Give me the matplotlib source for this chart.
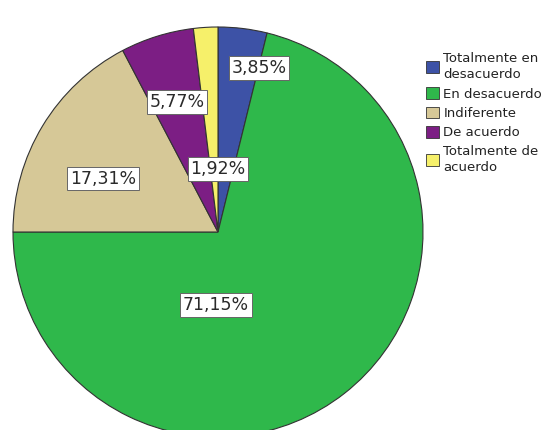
import matplotlib
matplotlib.use("Agg")
import matplotlib.pyplot as plt

categories = ["Totalmente en\ndesacuerdo", "En desacuerdo", "Indiferente",
              "De acuerdo", "Totalmente de\nacuerdo"]
percentages = [3.85, 71.15, 17.31, 5.77, 1.92]
colors = ["#3d52a6", "#2fb84b", "#d6c897", "#7c1e84", "#f6f06a"]

# label positions (pie radius = 1)
label_pos = [(0.20, 0.80), (-0.01, -0.356), (-0.56, 0.26), (-0.20, 0.634), (0.0, 0.307)]

fig = plt.figure(figsize=(5.58, 4.30), dpi=100)
ax = fig.add_axes([0, 0, 1, 1])
wedges, texts, autotexts = ax.pie(
    percentages,
    colors=colors,
    startangle=90,
    counterclock=False,
    autopct=lambda p: f"{p:.2f}%".replace(".", ","),
    wedgeprops=dict(edgecolor="#333333", linewidth=0.8),
)
for t, pos in zip(autotexts, label_pos):
    t.set_position(pos)
    t.set_fontsize(12.5)
    t.set_color("#2a2a2a")
    t.set_bbox(dict(facecolor="white", edgecolor="#666666", linewidth=0.7, pad=2))

# pie centre at (218, 232) px, radius 205 px
ax.set_xlim(-218 / 205, (558 - 218) / 205)
ax.set_ylim(-(430 - 232) / 205, 232 / 205)
ax.set_aspect("auto")
ax.axis("off")

leg = fig.legend(wedges, categories, loc="upper left",
                 bbox_to_anchor=(421 / 558, 1 - 47 / 430),
                 frameon=False, fontsize=9.5, handlelength=1.0, handleheight=1.0,
                 handletextpad=0.3, labelspacing=0.45, borderaxespad=0)
for h in leg.legend_handles:
    h.set_edgecolor("#333333")
    h.set_linewidth(0.6)
for txt in leg.get_texts():
    txt.set_color("#222222")
    txt.set_linespacing(1.3)

fig.savefig("out.png", dpi=100)
